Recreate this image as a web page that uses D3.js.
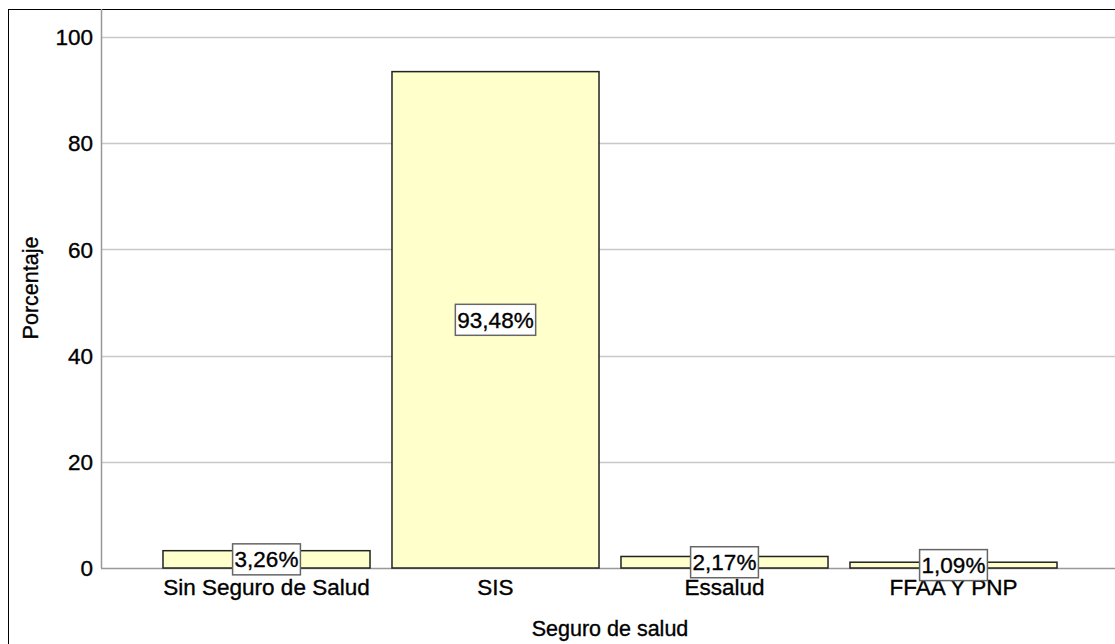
<!DOCTYPE html>
<html>
<head>
<meta charset="utf-8">
<script src="https://cdn.jsdelivr.net/npm/d3@7"></script>
<style>
  body { margin: 0; background: #fff; }
  svg text { font-family: "Liberation Sans", Arial, sans-serif; fill: #000; stroke: #000; stroke-width: 0.35px; }
</style>
</head>
<body>
<svg id="chart" width="1115" height="644"></svg>
<script>
"use strict";

const categories = ["Sin Seguro de Salud", "SIS", "Essalud", "FFAA Y PNP"];
const percents = [3.26, 93.48, 2.17, 1.09];
const valueLabels = ["3,26%", "93,48%", "2,17%", "1,09%"];
const yTicks = [0, 20, 40, 60, 80, 100];

const plotLeft = 101, plotTop = 9, plotRight = 1115, plotBottom = 568;
const fontSize = 22.5;

const svg = d3.select("svg#chart");

// outer frame
svg.append("rect")
    .attr("x", 8.5).attr("y", 9.5)
    .attr("width", 1200).attr("height", 800)
    .attr("fill", "#fff").attr("stroke", "#000").attr("stroke-width", 1);

const xScale = d3.scaleBand()
    .domain(categories)
    .range([152, 1068])
    .paddingInner(0.096)
    .paddingOuter(0.048);
const yScale = d3.scaleLinear()
    .domain([0, 100])
    .range([plotBottom, 37]);

// gridlines
svg.append("g").selectAll("line")
    .data(yTicks.filter(t => t > 0))
    .join("line")
    .attr("x1", plotLeft).attr("x2", plotRight)
    .attr("y1", t => Math.round(yScale(t)) + 0.5)
    .attr("y2", t => Math.round(yScale(t)) + 0.5)
    .attr("stroke", "#c8c8c8").attr("stroke-width", 1.5);

// y axis line + baseline
svg.append("line")
    .attr("x1", plotLeft + 0.5).attr("x2", plotLeft + 0.5)
    .attr("y1", plotTop).attr("y2", plotBottom)
    .attr("stroke", "#999").attr("stroke-width", 1.5);
svg.append("line")
    .attr("x1", plotLeft).attr("x2", plotRight)
    .attr("y1", plotBottom + 0.5).attr("y2", plotBottom + 0.5)
    .attr("stroke", "#999").attr("stroke-width", 1.5);

// y tick labels
svg.append("g").selectAll("text")
    .data(yTicks)
    .join("text")
    .attr("x", 93)
    .attr("y", t => yScale(t))
    .attr("dy", "0.36em")
    .attr("text-anchor", "end")
    .attr("font-size", fontSize)
    .text(t => t);

// bars
svg.append("g").selectAll("rect")
    .data(percents)
    .join("rect")
    .attr("x", (d, i) => xScale(categories[i]))
    .attr("y", d => yScale(d))
    .attr("width", xScale.bandwidth())
    .attr("height", d => plotBottom - yScale(d))
    .attr("fill", "#ffffcc")
    .attr("stroke", "#222").attr("stroke-width", 1.5);

// category labels
svg.append("g").selectAll("text")
    .data(categories)
    .join("text")
    .attr("x", c => xScale(c) + xScale.bandwidth() / 2)
    .attr("y", 595)
    .attr("text-anchor", "middle")
    .attr("font-size", fontSize)
    .text(c => c);

// value labels with boxes
const labelG = svg.append("g").selectAll("g")
    .data(percents)
    .join("g")
    .attr("transform", (d, i) => "translate(" + (xScale(categories[i]) + xScale.bandwidth() / 2) + "," + ((yScale(d) + plotBottom) / 2) + ")");
labelG.append("text")
    .attr("text-anchor", "middle")
    .attr("dy", "0.36em")
    .attr("font-size", fontSize)
    .text((d, i) => valueLabels[i]);
labelG.each(function() {
    const g = d3.select(this);
    const bb = g.select("text").node().getBBox();
    g.insert("rect", "text")
        .attr("x", bb.x - 2).attr("y", -15.5)
        .attr("width", bb.width + 4).attr("height", 31)
        .attr("fill", "#fff").attr("stroke", "#666").attr("stroke-width", 1.5);
});

// axis titles
svg.append("text")
    .attr("transform", "translate(38,288) rotate(-90)")
    .attr("text-anchor", "middle")
    .attr("font-size", fontSize - 1)
    .text("Porcentaje");
svg.append("text")
    .attr("x", 610).attr("y", 636)
    .attr("text-anchor", "middle")
    .attr("font-size", fontSize - 1)
    .text("Seguro de salud");
</script>
</body>
</html>
